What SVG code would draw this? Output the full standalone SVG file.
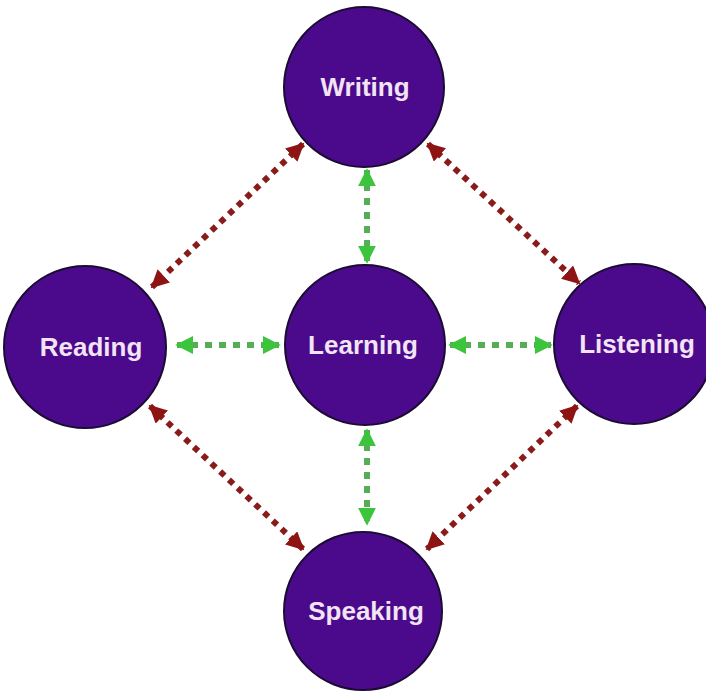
<svg xmlns="http://www.w3.org/2000/svg" width="706" height="694" viewBox="0 0 706 694">
  <defs>
    <marker id="headGreen" viewBox="0 0 10 10" refX="9" refY="5" markerWidth="3" markerHeight="3" orient="auto-start-reverse" markerUnits="strokeWidth">
      <path d="M0,0 L10,5 L0,10 Z" fill="#3dc43d"/>
    </marker>
    <marker id="headRed" viewBox="0 0 10 10" refX="9" refY="5" markerWidth="3" markerHeight="3" orient="auto-start-reverse" markerUnits="strokeWidth">
      <path d="M0,0 L10,5 L0,10 Z" fill="#8e1414"/>
    </marker>
  </defs>
  <style>
    .node circle { fill: #4b0a8c; stroke: #1c0b33; stroke-width: 2; }
    .node text { font-family: "Liberation Sans", Arial, sans-serif; font-weight: bold; font-size: 26px; fill: #f2e4f4; text-anchor: middle; dominant-baseline: central; }
    .green { stroke: #55ad55; stroke-width: 6; stroke-dasharray: 7 7; fill: none; marker-start: url(#headGreen); marker-end: url(#headGreen); }
    .red { stroke: #8a1b1b; stroke-width: 6; stroke-dasharray: 6 6; fill: none; marker-start: url(#headRed); marker-end: url(#headRed); }
  </style>
  <rect width="706" height="694" fill="#ffffff"/>

  <g id="connectors">
    <line class="green" x1="177" y1="345" x2="279" y2="345"/>
    <line class="green" x1="450" y1="345" x2="551" y2="345"/>
    <line class="green" x1="367" y1="170" x2="367" y2="262"/>
    <line class="green" x1="367" y1="430" x2="367" y2="524"/>
    <line class="red" x1="303" y1="144" x2="152" y2="287"/>
    <line class="red" x1="428" y1="144" x2="579" y2="283"/>
    <line class="red" x1="150" y1="406" x2="303" y2="549"/>
    <line class="red" x1="577" y1="406" x2="427" y2="549"/>
  </g>

  <g id="writing" class="node">
    <circle cx="364" cy="87" r="80"/>
    <text x="365" y="87">Writing</text>
  </g>
  <g id="reading" class="node">
    <circle cx="85" cy="347" r="81"/>
    <text x="91" y="347">Reading</text>
  </g>
  <g id="learning" class="node">
    <circle cx="365" cy="345" r="80"/>
    <text x="363" y="345">Learning</text>
  </g>
  <g id="listening" class="node">
    <circle cx="634" cy="344" r="80"/>
    <text x="637" y="344">Listening</text>
  </g>
  <g id="speaking" class="node">
    <circle cx="363" cy="611" r="79"/>
    <text x="366" y="611">Speaking</text>
  </g>
</svg>
